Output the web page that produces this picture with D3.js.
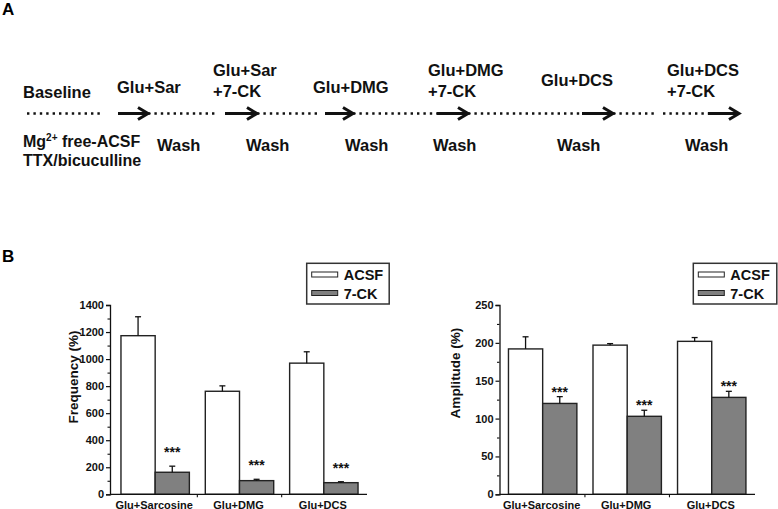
<!DOCTYPE html>
<html><head><meta charset="utf-8">
<script src="https://cdn.jsdelivr.net/npm/d3@7"></script>
<style>body{margin:0;background:#fff} svg{display:block}</style>
</head><body><svg id="c" width="778" height="509"></svg>
<script>
// ---------- data ----------
const categories = ["Glu+Sarcosine", "Glu+DMG", "Glu+DCS"];
const seriesNames = ["ACSF", "7-CK"];
const freqACSF = [1173, 762, 970];
const freqACSFErr = [140, 40, 84];
const freq7CK = [163, 101, 86];
const freq7CKErr = [45, 10, 7];
const ampACSF = [192, 197, 202];
const ampACSFErr = [16, 2, 5];
const amp7CK = [120, 103, 128];
const amp7CKErr = [9, 8, 8];
const freqTicks = [0, 200, 400, 600, 800, 1000, 1200, 1400];
const ampTicks = [0, 50, 100, 150, 200, 250];
const sigLabels = ["***", "***", "***"];

// schematic (panel A) texts
const stepLabels = [["Baseline"], ["Glu+Sar"], ["Glu+Sar", "+7-CK"], ["Glu+DMG"], ["Glu+DMG", "+7-CK"], ["Glu+DCS"], ["Glu+DCS", "+7-CK"]];
const washLabels = ["Wash", "Wash", "Wash", "Wash", "Wash", "Wash"];
const baselineNotes = ["free-ACSF", "TTX/bicuculline"];

// ---------- layout ----------
const svg = d3.select("#c");
const FONT = "'Liberation Sans', Arial, sans-serif";
const GRAY = "#808080";

// timeline segments in px along the schematic (type, start, end)
const segments = [
  ["dot", 27, 100], ["arrow", 118, 148], ["dot", 148, 218], ["arrow", 225, 257],
  ["dot", 257, 320], ["arrow", 325, 353], ["dot", 353, 437], ["arrow", 437, 468],
  ["dot", 468, 582], ["arrow", 582, 613], ["dot", 613, 657], ["dot", 663, 708], ["arrow", 708, 739]
];
const lineY = 113.5;
const stepX = [23, 117, 213, 313, 428, 541, 667];
const stepBase = [98, 93, 76, 93, 76, 86, 76];
const washX = [157, 246, 345, 433, 557, 685];

// panel letters
svg.append("text").attr("x", 2).attr("y", 15).text("A")
  .style("font", `bold 17px ${FONT}`);
svg.append("text").attr("x", 2).attr("y", 262).text("B")
  .style("font", `bold 17px ${FONT}`);

const gA = svg.append("g");
segments.forEach(s => {
  if (s[0] === "dot") {
    gA.append("line").attr("x1", s[1]).attr("x2", s[2]).attr("y1", lineY).attr("y2", lineY)
      .attr("stroke", "#111").attr("stroke-width", 2.4).attr("stroke-dasharray", "2.4,4");
  } else {
    gA.append("line").attr("x1", s[1]).attr("x2", s[2] - 2).attr("y1", lineY).attr("y2", lineY)
      .attr("stroke", "#111").attr("stroke-width", 3);
    gA.append("path").attr("d", `M${s[2] - 10},${lineY - 6} L${s[2]},${lineY} L${s[2] - 10},${lineY + 6}`)
      .attr("fill", "none").attr("stroke", "#111").attr("stroke-width", 3).attr("stroke-linejoin", "miter");
  }
});
stepLabels.forEach((lines, i) => {
  lines.forEach((t, j) => {
    gA.append("text").attr("x", stepX[i]).attr("y", stepBase[i] + j * 21).text(t)
      .style("font", `bold 16.5px ${FONT}`).attr("fill", "#111");
  });
});
washLabels.forEach((t, i) => {
  gA.append("text").attr("x", washX[i]).attr("y", 151).text(t)
    .style("font", `bold 16.5px ${FONT}`).attr("fill", "#111");
});
const mg = gA.append("text").attr("x", 23).attr("y", 147).style("font", `bold 16px ${FONT}`).attr("fill", "#111");
mg.append("tspan").text("Mg");
mg.append("tspan").text("2+").attr("dy", -6).style("font-size", "10px");
mg.append("tspan").text(" " + baselineNotes[0]).attr("dy", 6);
gA.append("text").attr("x", 23).attr("y", 166).text(baselineNotes[1])
  .style("font", `bold 16px ${FONT}`).attr("fill", "#111");

// ---------- bar charts ----------
function barChart(cfg) {
  const g = svg.append("g");
  const y = d3.scaleLinear().domain([cfg.ticks[0], cfg.ticks[cfg.ticks.length - 1]]).range([494.3, 305]);
  const x = d3.scaleBand().domain(categories).range(cfg.xRange).paddingInner(0).paddingOuter(0);
  const sub = d3.scaleBand().domain(seriesNames).range([-34.2, 34.2]);
  const series = [
    { name: seriesNames[0], vals: cfg.a, errs: cfg.aErr, fill: "#fff" },
    { name: seriesNames[1], vals: cfg.b, errs: cfg.bErr, fill: GRAY }
  ];
  // bars
  series.forEach(s => {
    categories.forEach((c, i) => {
      const cx = x(c) + x.bandwidth() / 2;
      const x0 = cx + sub(s.name);
      g.append("rect").attr("x", x0).attr("y", y(s.vals[i]))
        .attr("width", sub.bandwidth()).attr("height", y(0) - y(s.vals[i]))
        .attr("fill", s.fill).attr("stroke", "#222").attr("stroke-width", 1.4);
      const xm = x0 + sub.bandwidth() / 2;
      g.append("line").attr("x1", xm).attr("x2", xm).attr("y1", y(s.vals[i])).attr("y2", y(s.vals[i] + s.errs[i]))
        .attr("stroke", "#111").attr("stroke-width", 1.3);
      g.append("line").attr("x1", xm - 3).attr("x2", xm + 3).attr("y1", y(s.vals[i] + s.errs[i])).attr("y2", y(s.vals[i] + s.errs[i]))
        .attr("stroke", "#111").attr("stroke-width", 1.3);
    });
  });
  // significance
  categories.forEach((c, i) => {
    const xm = x(c) + x.bandwidth() / 2 + sub(seriesNames[1]) + sub.bandwidth() / 2;
    g.append("text").attr("x", xm).attr("y", y(cfg.b[i] + cfg.bErr[i]) - cfg.starGap + 8)
      .attr("text-anchor", "middle").text(sigLabels[i])
      .style("font", `bold 14px ${FONT}`).attr("fill", "#111");
  });
  // y axis
  const minor = [];
  for (let k = 0; k < cfg.ticks.length - 1; k++) minor.push((cfg.ticks[k] + cfg.ticks[k + 1]) / 2);
  const yAxis = d3.axisLeft(y).tickValues(cfg.ticks).tickSize(4).tickPadding(2).tickFormat(d3.format("d"));
  const ga = g.append("g").attr("transform", `translate(${cfg.axisX},0)`).call(yAxis);
  ga.select(".domain").attr("stroke", "#111").attr("stroke-width", 1.3);
  ga.selectAll(".tick line").attr("stroke", "#111").attr("stroke-width", 1.2);
  ga.selectAll(".tick text").style("font", `bold 11px ${FONT}`).attr("fill", "#111");
  const gm = g.append("g").attr("transform", `translate(${cfg.axisX},0)`)
    .call(d3.axisLeft(y).tickValues(minor).tickSize(2.5).tickFormat(""));
  gm.select(".domain").remove();
  gm.selectAll(".tick line").attr("stroke", "#111").attr("stroke-width", 1.1);
  // x axis line
  g.append("line").attr("x1", cfg.axisX).attr("x2", cfg.xRange[1] + 1).attr("y1", y(0)).attr("y2", y(0))
    .attr("stroke", "#111").attr("stroke-width", 1.3);
  categories.slice(1).forEach(c => {
    g.append("line").attr("x1", x(c)).attr("x2", x(c)).attr("y1", y(0)).attr("y2", y(0) + 3)
      .attr("stroke", "#111").attr("stroke-width", 1.1);
  });
  categories.forEach(c => {
    g.append("text").attr("x", x(c) + x.bandwidth() / 2 - 1).attr("y", 508.5).attr("text-anchor", "middle")
      .text(c).style("font", `bold 11px ${FONT}`).attr("fill", "#111");
  });
  // y label
  g.append("text").attr("transform", `translate(${cfg.labelX},${cfg.labelY}) rotate(-90)`)
    .attr("text-anchor", "middle").text(cfg.label).style("font", `bold 13.5px ${FONT}`).attr("fill", "#111");
  // legend
  const L = cfg.legend;
  g.append("rect").attr("x", L.x).attr("y", 263.3).attr("width", L.w).attr("height", 40.7)
    .attr("fill", "#fff").attr("stroke", "#333").attr("stroke-width", 1.5);
  series.forEach((s, i) => {
    g.append("rect").attr("x", L.x + 5).attr("y", 272 + i * 18.5).attr("width", 26).attr("height", 5)
      .attr("fill", s.fill).attr("stroke", "#222").attr("stroke-width", 1);
    g.append("text").attr("x", L.x + 37).attr("y", 279.5 + i * 19).text(s.name)
      .style("font", `bold 14.5px ${FONT}`).attr("fill", "#111");
  });
}

barChart({
  ticks: freqTicks, a: freqACSF, aErr: freqACSFErr, b: freq7CK, bErr: freq7CKErr,
  xRange: [113, 366], axisX: 110, starGap: 17, label: "Frequency (%)", labelX: 78, labelY: 377,
  legend: { x: 306.7, w: 82.5 }
});
barChart({
  ticks: ampTicks, a: ampACSF, aErr: ampACSFErr, b: amp7CK, bErr: amp7CKErr,
  xRange: [500.4, 754], axisX: 499.5, starGap: 8, label: "Amplitude (%)", labelX: 460, labelY: 373,
  legend: { x: 693.3, w: 83.5 }
});
</script></body></html>
